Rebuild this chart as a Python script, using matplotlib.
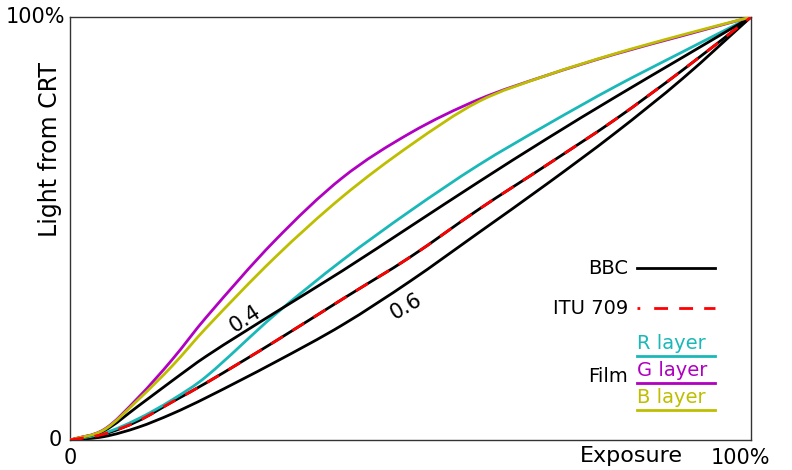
#!/usr/bin/env python
# transfer curves: light from CRT against exposure

import matplotlib
matplotlib.use('Agg')
import matplotlib.pyplot as plt
from matplotlib.path import Path
from matplotlib.patches import PathPatch

plt.rcParams['font.family'] = ['DejaVu Sans']

# exposure (fraction of full scale)
exposure = [0.0, 0.05, 0.1, 0.15, 0.2, 0.3, 0.4, 0.5, 0.6, 0.7, 0.8, 0.9, 1.0]

# BBC curves (black) and ITU 709 (red dashed, drawn on the middle BBC curve)
bbc_04 = [0.0, 0.022, 0.080, 0.140, 0.198, 0.300, 0.400, 0.505, 0.610, 0.712, 0.810, 0.905, 1.0]
bbc_05 = [0.0, 0.014, 0.045, 0.090, 0.135, 0.232, 0.333, 0.433, 0.545, 0.650, 0.757, 0.875, 1.0]
bbc_06 = [0.0, 0.008, 0.030, 0.062, 0.100, 0.183, 0.272, 0.376, 0.490, 0.605, 0.725, 0.855, 1.0]

# film layers
film_r = [0.0, 0.016, 0.050, 0.095, 0.150, 0.295, 0.425, 0.542, 0.650, 0.745, 0.835, 0.918, 1.0]
film_g = [0.0, 0.025, 0.100, 0.190, 0.290, 0.470, 0.620, 0.726, 0.805, 0.862, 0.912, 0.956, 1.0]
film_b = [0.0, 0.024, 0.095, 0.175, 0.265, 0.430, 0.575, 0.697, 0.800, 0.862, 0.913, 0.958, 1.0]

BLACK = '#000000'
RED = '#ff0000'
CYAN = '#1ab8b8'
MAGENTA = '#b000c0'
OLIVE = '#bebe00'
LW = 2.0


def smooth_curve(ax, xs, ys, **kw):
    # cubic hermite through the points, drawn as bezier segments
    n = len(xs)
    slopes = []
    for i in range(n):
        a = max(i - 1, 0)
        b = min(i + 1, n - 1)
        slopes.append((ys[b] - ys[a]) / (xs[b] - xs[a]))
    verts = [(xs[0], ys[0])]
    codes = [Path.MOVETO]
    for i in range(n - 1):
        h = xs[i + 1] - xs[i]
        verts += [(xs[i] + h / 3, ys[i] + slopes[i] * h / 3),
                  (xs[i + 1] - h / 3, ys[i + 1] - slopes[i + 1] * h / 3),
                  (xs[i + 1], ys[i + 1])]
        codes += [Path.CURVE4] * 3
    patch = PathPatch(Path(verts, codes), fill=False, capstyle='round', **kw)
    ax.add_patch(patch)
    return patch


fig = plt.figure(figsize=(7.92, 4.70), dpi=100)
ax = fig.add_axes([70/792, 30/470, 681/792, 423/470])

smooth_curve(ax, exposure, bbc_06, edgecolor=BLACK, lw=LW, zorder=3)
smooth_curve(ax, exposure, bbc_05, edgecolor=BLACK, lw=LW, zorder=3)
p = smooth_curve(ax, exposure, bbc_05, edgecolor=RED, lw=LW, zorder=4)
p.set_linestyle((0, (5, 4)))
p.set_capstyle('butt')
smooth_curve(ax, exposure, film_r, edgecolor=CYAN, lw=LW, zorder=3)
smooth_curve(ax, exposure, bbc_04, edgecolor=BLACK, lw=LW, zorder=3)
smooth_curve(ax, exposure, film_g, edgecolor=MAGENTA, lw=LW, zorder=3)
smooth_curve(ax, exposure, film_b, edgecolor=OLIVE, lw=LW, zorder=3)

ax.set_xlim(0, 1)
ax.set_ylim(0, 1)
ax.set_xticks([])
ax.set_yticks([])
for s in ax.spines.values():
    s.set_color('#333333')
    s.set_linewidth(1.0)

fs = 15
# axis end labels
ax.text(0, -0.02, '0', ha='center', va='top', fontsize=fs, transform=ax.transAxes)
ax.text(0.984, -0.02, '100%', ha='center', va='top', fontsize=fs, transform=ax.transAxes)
ax.text(0.825, -0.015, 'Exposure', ha='center', va='top', fontsize=16, transform=ax.transAxes)
ax.text(-0.012, 0.0, '0', ha='right', va='center', fontsize=fs, transform=ax.transAxes)
ax.text(-0.007, 1.0, '100%', ha='right', va='center', fontsize=fs, transform=ax.transAxes)
ax.text(-0.029, 0.686, 'Light from CRT', ha='center', va='center', rotation=90,
        fontsize=17, transform=ax.transAxes)

# curve labels
ax.text(0.258, 0.285, '0.4', rotation=33, ha='center', va='center', fontsize=15)
ax.text(0.494, 0.316, '0.6', rotation=30, ha='center', va='center', fontsize=15)

# hand-made legend
tr = ax.transAxes
x0, x1 = (637 - 70)/681, (715 - 70)/681
xt = (628 - 70)/681


def ya(py):
    return (440 - py)/423


ax.text(xt, ya(268), 'BBC', ha='right', va='center', fontsize=14, transform=tr)
ax.plot([x0, x1], [ya(268)]*2, color=BLACK, lw=LW, transform=tr, clip_on=False)
ax.text(xt, ya(308), 'ITU 709', ha='right', va='center', fontsize=14, transform=tr)
ax.plot([x0, x1], [ya(308)]*2, color=RED, lw=LW, dashes=(1, 5, 5, 4, 5, 4, 5, 4),
        transform=tr, clip_on=False)
ax.text(xt, ya(377), 'Film', ha='right', va='center', fontsize=14, transform=tr)
for label, col, py in [('R layer', CYAN, 356), ('G layer', MAGENTA, 383), ('B layer', OLIVE, 410)]:
    ax.text(x0, ya(py) + 0.006, label, ha='left', va='bottom', color=col, fontsize=14, transform=tr)
    ax.plot([x0, x1], [ya(py)]*2, color=col, lw=LW, transform=tr, clip_on=False)

fig.savefig('out.png', dpi=100)
